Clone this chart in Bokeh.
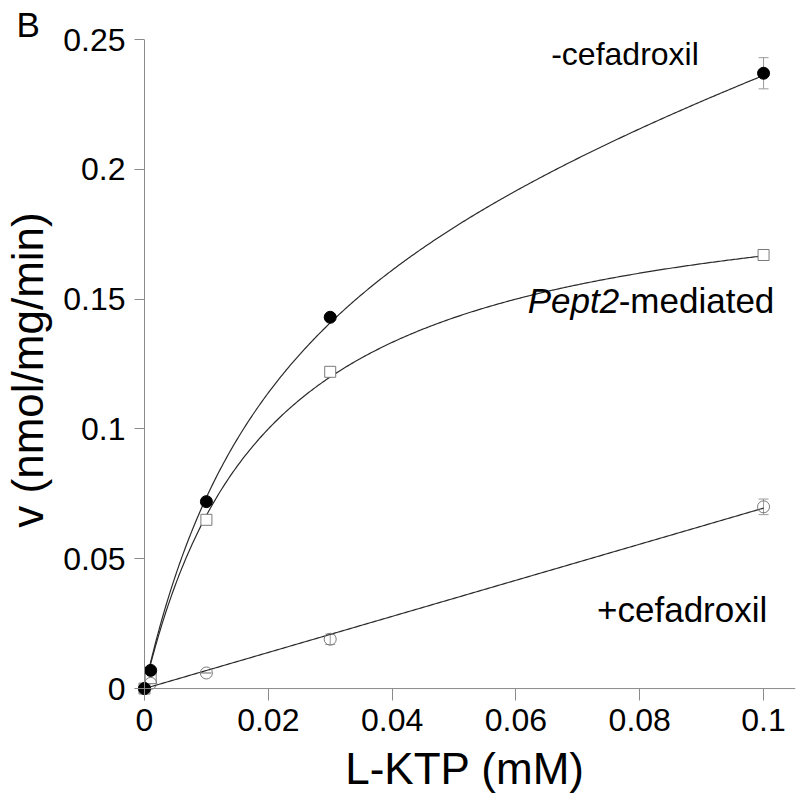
import numpy as np
from bokeh.plotting import figure
from bokeh.models import FixedTicker, Span, Label, Whisker, ColumnDataSource
from bokeh.embed import file_html
from bokeh.resources import INLINE

# ---- data ----
conc = [0.0, 0.001, 0.01, 0.03, 0.1]                 # L-KTP (mM)
v_minus_cef = [0.0, 0.007, 0.072, 0.143, 0.237]      # -cefadroxil (filled circles)
v_pept2 = [0.0, 0.004, 0.065, 0.122, 0.167]          # Pept2-mediated (open squares)
v_plus_cef = [0.0, 0.002, 0.006, 0.019, 0.070]       # +cefadroxil (open circles)
err_minus_cef = [0.0, 0.0, 0.0, 0.0, 0.006]
err_plus_cef = [0.0, 0.0, 0.0, 0.002, 0.003]

# fitted model parameters (Michaelis-Menten + non-saturable component)
pept2_vmax = 0.2
pept2_km = 0.02
nonsat_slope = 0.695

x_ticks = [0, 0.02, 0.04, 0.06, 0.08, 0.1]
x_tick_labels = ["0", "0.02", "0.04", "0.06", "0.08", "0.1"]
y_ticks = [0, 0.05, 0.1, 0.15, 0.2, 0.25]
y_tick_labels = ["0", "0.05", "0.1", "0.15", "0.2", "0.25"]

FONT = "Liberation Sans"
AXIS_GRAY = "#8a8a8a"

p = figure(width=800, height=800, output_backend="svg", toolbar_location=None,
           x_range=(-0.001613, 0.10516), y_range=(-0.0046, 0.25),
           min_border_left=133, min_border_right=5, min_border_top=36,
           min_border_bottom=100)
p.outline_line_color = None
p.grid.visible = False
p.background_fill_color = "white"
p.border_fill_color = "white"

for ax in (p.xaxis[0], p.yaxis[0]):
    ax.axis_line_color = None
    ax.major_tick_line_color = AXIS_GRAY
    ax.major_tick_line_width = 1
    ax.minor_tick_line_color = None
    ax.major_tick_out = 0
    ax.major_label_text_font = FONT
    ax.major_label_text_font_size = "32px"
    ax.major_label_text_color = "black"
    ax.axis_label_text_font = FONT
    ax.axis_label_text_font_style = "normal"
    ax.axis_label_text_font_size = "44px"
    ax.axis_label_text_color = "black"

p.xaxis.ticker = FixedTicker(ticks=x_ticks)
p.xaxis.major_label_overrides = dict(zip(x_ticks, x_tick_labels))
p.xaxis.major_tick_in = 12
p.xaxis.major_label_standoff = 8
p.xaxis.axis_label = "L-KTP (mM)"
p.xaxis.axis_label_standoff = 10

p.yaxis.ticker = FixedTicker(ticks=y_ticks)
p.yaxis.major_label_overrides = dict(zip(y_ticks, y_tick_labels))
p.yaxis.major_tick_in = 10
p.yaxis.major_label_standoff = 9
p.yaxis.axis_label = "v (nmol/mg/min)"
p.yaxis.axis_label_standoff = 8

# axis lines at data zero
p.add_layout(Span(location=0, dimension="width", line_color=AXIS_GRAY, line_width=1))
p.add_layout(Span(location=0, dimension="height", line_color=AXIS_GRAY, line_width=1))

# fitted curves
xs = np.linspace(0, conc[-1], 400)
fit_pept2 = pept2_vmax * xs / (pept2_km + xs)
fit_plus = nonsat_slope * xs
fit_minus = fit_pept2 + fit_plus
for ys in (fit_minus, fit_pept2, fit_plus):
    p.line(xs, ys, line_color="#2a2a2a", line_width=1.2)

# error bars
src_minus = ColumnDataSource(dict(x=conc, lo=[a - b for a, b in zip(v_minus_cef, err_minus_cef)],
                                  hi=[a + b for a, b in zip(v_minus_cef, err_minus_cef)]))
src_plus = ColumnDataSource(dict(x=conc, lo=[a - b for a, b in zip(v_plus_cef, err_plus_cef)],
                                 hi=[a + b for a, b in zip(v_plus_cef, err_plus_cef)]))
for src in (src_minus, src_plus):
    w = Whisker(source=src, base="x", upper="hi", lower="lo", line_color="#9a9a9a", line_width=1)
    w.upper_head.size = 10
    w.lower_head.size = 10
    w.upper_head.line_color = "#9a9a9a"
    w.lower_head.line_color = "#9a9a9a"
    p.add_layout(w)

# markers
p.scatter(conc, v_pept2, marker="square", size=11, fill_color="white",
          line_color="#7a7a7a", line_width=1)
p.scatter(conc, v_plus_cef, marker="circle", size=12, fill_color="white",
          line_color="#7a7a7a", line_width=1, fill_alpha=0.0)
p.scatter(conc, v_minus_cef, marker="circle", size=12, fill_color="black",
          line_color="black")

# annotations
def lab(x, y, text, size="32px", style="normal", align="left"):
    l = Label(x=x, y=y, text=text, text_font=FONT, text_font_size=size,
              text_font_style=style, text_align=align, text_baseline="alphabetic",
              text_color="black")
    p.add_layout(l)
    return l

lab(0.0657, 0.2443, "-cefadroxil")
lab(0.0619, 0.1496, "Pept2", size="35px", style="italic")
lab(0.0766, 0.1496, "-mediated", size="35px")
lab(0.1006, 0.0303, "+cefadroxil", size="35px", align="right")

panel_label = Label(x=16, y=24, x_units="canvas", y_units="canvas", text="B",
                    text_font=FONT, text_font_size="35px", text_align="left",
                    text_baseline="alphabetic", text_color="black")
p.add_layout(panel_label, "above")

open("out.html", "w").write(file_html(p, INLINE))
